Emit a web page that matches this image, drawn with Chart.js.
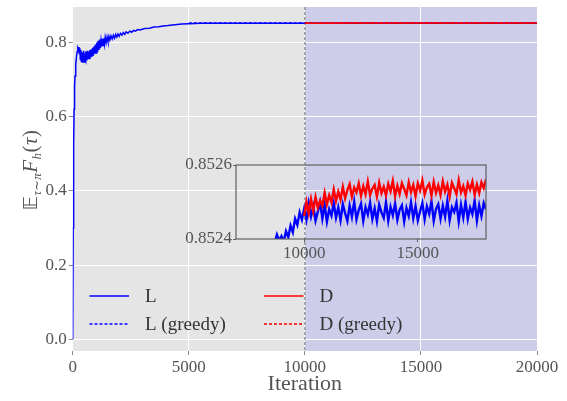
<!DOCTYPE html>
<html><head><meta charset="utf-8">
<script src="https://cdn.jsdelivr.net/npm/chart.js@4.4.0/dist/chart.umd.min.js"></script>
<style>
html,body{margin:0;padding:0;background:#fff;overflow:hidden}
#wrap{position:relative;width:567px;height:401px}
#main{position:absolute;left:0;top:0}
#inset{position:absolute;left:170px;top:150px}
</style></head><body>
<div id="wrap"><canvas id="main" width="567" height="401"></canvas><canvas id="inset" width="330" height="115"></canvas></div>
<script>
// ---------- data ----------
const xTicksMain = [0, 5000, 10000, 15000, 20000];
const yTicksMain = [0.0, 0.2, 0.4, 0.6, 0.8];
const xTicksInset = [10000, 15000];
const yTicksInset = [0.8524, 0.8526];

// L (sampled) over the full run, main view
const mainLIter = [0,20,40,60,80,100,130,160,190,220,250,270,290,310,330,350,370,390,410,430,450,470,490,510,530,550,570,590,610,630,650,680,710,740,770,800,830,860,890,920,950,980,1010,1040,1070,1100,1130,1160,1190,1220,1250,1280,1310,1340,1370,1400,1440,1480,1520,1560,1600,1650,1700,1750,1800,1850,1900,1950,2000,2060,2120,2180,2240,2300,2380,2460,2540,2620,2700,2800,2900,3100,3300,3500,3700,3900,4100,4400,4700,5000,5500,6000,7000,8000,9000,9500,10000,12000,20000];
const mainLVal = [0.0,0.30,0.52,0.62,0.68,0.71,0.74,0.76,0.775,0.785,0.78,0.788,0.77,0.785,0.755,0.78,0.75,0.775,0.748,0.772,0.752,0.778,0.748,0.77,0.755,0.776,0.75,0.772,0.752,0.778,0.755,0.775,0.757,0.78,0.76,0.782,0.762,0.786,0.765,0.79,0.77,0.795,0.772,0.80,0.775,0.805,0.78,0.808,0.785,0.806,0.79,0.81,0.792,0.812,0.796,0.814,0.80,0.815,0.803,0.817,0.807,0.818,0.81,0.82,0.812,0.822,0.815,0.823,0.817,0.825,0.82,0.827,0.822,0.829,0.825,0.831,0.828,0.833,0.831,0.835,0.834,0.838,0.839,0.842,0.843,0.845,0.846,0.848,0.850,0.851,0.852,0.8523,0.8524,0.85242,0.85241,0.85244,0.85247,0.85248,0.85248];

// D (sampled), main view
const mainDIter = [10000, 11000, 12000, 20000];
const mainDVal = [0.85247, 0.8525, 0.85253, 0.85253];

// greedy evaluations, main view
const greedyLIter = [5000, 20000];
const greedyLVal = [0.8526, 0.8526];
const greedyDIter = [10000, 20000];
const greedyDVal = [0.8526, 0.8526];

// inset (zoomed) samples
const insetIter = [8700,8800,8900,9000,9100,9200,9300,9400,9500,9600,9700,9800,9900,
10000,10100,10200,10300,10400,10500,10600,10700,10800,10900,11000,11100,11200,11300,11400,11500,11600,11700,11800,11900,
12000,12100,12200,12300,12400,12500,12600,12700,12800,12900,13000,13100,13200,13300,13400,13500,13600,13700,13800,13900,
14000,14100,14200,14300,14400,14500,14600,14700,14800,14900,15000,15100,15200,15300,15400,15500,15600,15700,15800,15900,
16000,16100,16200,16300,16400,16500,16600,16700,16800,16900,17000,17100,17200,17300,17400,17500,17600,17700,17800,17900,18000];
const insetLVal = [0.852390,0.852412,0.852396,0.852408,0.852393,0.852421,0.852405,0.852436,0.852418,0.852455,0.852438,0.852472,0.852452,
0.852482,0.852452,0.852496,0.852461,0.852488,0.852450,0.852474,0.852499,0.852455,0.852492,0.852447,0.852480,0.852463,0.852497,0.852458,0.852485,0.852451,0.852494,0.852470,0.852449,
0.852490,0.852460,0.852501,0.852453,0.852478,0.852495,0.852449,0.852486,0.852466,0.852498,0.852454,0.852483,0.852448,0.852493,0.852472,0.852457,0.852500,0.852450,0.852487,0.852464,
0.852496,0.852452,0.852479,0.852491,0.852447,0.852484,0.852462,0.852499,0.852456,0.852489,0.852450,0.852475,0.852497,0.852453,0.852488,0.852468,0.852502,0.852449,0.852481,0.852494,
0.852455,0.852490,0.852460,0.852503,0.852451,0.852486,0.852473,0.852498,0.852448,0.852492,0.852458,0.852500,0.852454,0.852485,0.852467,0.852504,0.852450,0.852491,0.852462,0.852497,0.852480];
const insetDVal = [0.852462,0.852500,0.852470,0.852508,0.852476,0.852513,0.852485,0.852504,0.852490,0.852525,0.852494,0.852518,0.852499,0.852534,0.852503,0.852528,0.852507,0.852541,0.852510,0.852532,
0.852548,0.852514,0.852539,0.852526,0.852550,0.852517,0.852543,0.852521,0.852555,0.852519,0.852536,0.852546,0.852515,0.852552,0.852524,0.852541,0.852518,0.852549,0.852529,0.852557,
0.852516,0.852544,0.852522,0.852551,0.852535,0.852518,0.852553,0.852527,0.852546,0.852516,0.852550,0.852531,0.852558,0.852520,0.852540,0.852549,0.852517,0.852554,0.852525,0.852545,
0.852519,0.852556,0.852528,0.852547,0.852515,0.852552,0.852537,0.852521,0.852559,0.852526,0.852543,0.852518,0.852550,0.852533,0.852555,0.852520,0.852547,0.852524,0.852553,0.852538,0.852561];
const insetDIter = insetIter.slice(insetIter.indexOf(10000));

const shadeFrom = 10000, shadeTo = 20000;
// ---------- end data ----------

const pts = (xs, ys) => xs.map((x, i) => ({x, y: ys[i]}));
const SERIF = '"Liberation Serif", "DejaVu Serif", serif';
const BLUE = '#0000ff', RED = '#ff0000';
const TICKCOL = '#555555';

const bgPlugin = {
  id: 'bg',
  beforeDraw(chart) {
    const {ctx, chartArea: a, scales: {x}} = chart;
    ctx.save();
    ctx.fillStyle = '#e5e5e5';
    ctx.fillRect(a.left, a.top, a.right - a.left, a.bottom - a.top);
    const x0 = x.getPixelForValue(shadeFrom), x1 = x.getPixelForValue(shadeTo);
    ctx.fillStyle = '#cdcde9';
    ctx.fillRect(x0, a.top, x1 - x0, a.bottom - a.top);
    ctx.restore();
  },
  beforeDatasetsDraw(chart) {
    const {ctx, chartArea: a, scales: {x}} = chart;
    const xp = x.getPixelForValue(shadeFrom);
    ctx.save();
    ctx.strokeStyle = '#8a8a8a';
    ctx.lineWidth = 1.3;
    ctx.setLineDash([3, 2]);
    ctx.beginPath(); ctx.moveTo(xp, a.top); ctx.lineTo(xp, a.bottom); ctx.stroke();
    ctx.restore();
  }
};

const legendItems = [
  {label: 'L', color: BLUE, dash: [], col: 0, row: 0},
  {label: 'L (greedy)', color: BLUE, dash: [3, 2], col: 0, row: 1},
  {label: 'D', color: RED, dash: [], col: 1, row: 0},
  {label: 'D (greedy)', color: RED, dash: [3, 2], col: 1, row: 1}
];
const legendPlugin = {
  id: 'customLegend',
  afterDatasetsDraw(chart) {
    const ctx = chart.ctx;
    const colX = [89.5, 264], rowY = [296, 324];
    ctx.save();
    legendItems.forEach(it => {
      const x = colX[it.col], y = rowY[it.row];
      ctx.strokeStyle = it.color; ctx.lineWidth = 1.5; ctx.setLineDash(it.dash);
      ctx.beginPath(); ctx.moveTo(x, y); ctx.lineTo(x + 39.5, y); ctx.stroke();
      ctx.setLineDash([]);
      ctx.fillStyle = '#333333';
      ctx.font = '19px ' + SERIF;
      ctx.textBaseline = 'middle';
      ctx.fillText(it.label, x + 55.5, y + 1);
    });
    ctx.restore();
  }
};

const yTitlePlugin = {
  id: 'yTitle',
  afterDraw(chart) {
    const ctx = chart.ctx;
    const parts = [
      ['𝔼', '20px "DejaVu Sans", "DejaVu Serif", sans-serif', 0],
      ['τ∼π', 'italic 13px ' + SERIF, 4],
      ['F', 'italic 21px ' + SERIF, 0],
      ['h', 'italic 13px ' + SERIF, 4],
      ['(', '21px ' + SERIF, 0],
      ['τ', 'italic 21px ' + SERIF, 0],
      [')', '21px ' + SERIF, 0]
    ];
    ctx.save();
    let total = 0;
    parts.forEach(p => { ctx.font = p[1]; total += ctx.measureText(p[0]).width + 0.5; });
    ctx.translate(37, 170);
    ctx.rotate(-Math.PI / 2);
    ctx.fillStyle = '#555555';
    ctx.textBaseline = 'alphabetic';
    let cx = -total / 2;
    parts.forEach(p => {
      ctx.font = p[1];
      ctx.fillText(p[0], cx, p[2]);
      cx += ctx.measureText(p[0]).width + 0.5;
    });
    ctx.restore();
  }
};

const zeroPad = s => { s.paddingTop = 0; s.paddingBottom = 0; s.paddingLeft = 0; s.paddingRight = 0; };

const mainChart = new Chart(document.getElementById('main'), {
  type: 'scatter',
  data: {
    datasets: [
      {label: 'L', data: pts(mainLIter, mainLVal), borderColor: BLUE, borderWidth: 1.5, showLine: true, pointRadius: 0, order: 3},
      {label: 'L (greedy)', data: pts(greedyLIter, greedyLVal), borderColor: BLUE, borderWidth: 1.5, borderDash: [3, 2], showLine: true, pointRadius: 0, order: 2},
      {label: 'D', data: pts(mainDIter, mainDVal), borderColor: RED, borderWidth: 1.5, showLine: true, pointRadius: 0, order: 1},
      {label: 'D (greedy)', data: pts(greedyDIter, greedyDVal), borderColor: RED, borderWidth: 1.5, borderDash: [3, 2], showLine: true, pointRadius: 0, order: 0}
    ]
  },
  options: {
    responsive: false, animation: false, devicePixelRatio: 1,
    layout: {padding: {top: 7, right: 30, left: 0, bottom: 0}},
    plugins: {legend: {display: false}, tooltip: {enabled: false}},
    scales: {
      x: {
        type: 'linear', min: 0, max: 20000,
        afterBuildTicks: s => { s.ticks = xTicksMain.map(v => ({value: v})); },
        afterFit: s => { s.height = 50; zeroPad(s); },
        ticks: {font: {family: SERIF, size: 17}, color: TICKCOL, padding: 2, maxRotation: 0, callback: v => String(v)},
        grid: {color: '#ffffff', lineWidth: 1, tickColor: '#888888', tickLength: 4},
        border: {display: false},
        title: {display: true, text: 'Iteration', font: {family: SERIF, size: 22}, color: TICKCOL, padding: {top: 0, bottom: 4}}
      },
      y: {
        type: 'linear', min: -0.0316, max: 0.896,
        afterBuildTicks: s => { s.ticks = yTicksMain.map(v => ({value: v})); },
        afterFit: s => { s.width = 72.7; zeroPad(s); },
        ticks: {font: {family: SERIF, size: 17}, color: TICKCOL, padding: 2, callback: v => v.toFixed(1)},
        grid: {color: '#ffffff', lineWidth: 1, tickColor: '#888888', tickLength: 4},
        border: {display: false}
      }
    }
  },
  plugins: [bgPlugin, legendPlugin, yTitlePlugin]
});

const framePlugin = {
  id: 'frame',
  afterDraw(chart) {
    const {ctx, chartArea: a} = chart;
    ctx.save();
    ctx.strokeStyle = '#606060'; ctx.lineWidth = 1.2;
    ctx.strokeRect(a.left, a.top, a.right - a.left, a.bottom - a.top);
    ctx.restore();
  }
};

const insetChart = new Chart(document.getElementById('inset'), {
  type: 'scatter',
  data: {
    datasets: [
      {label: 'D', data: pts(insetDIter, insetDVal), borderColor: RED, borderWidth: 2.4, showLine: true, pointRadius: 0, order: 0},
      {label: 'L', data: pts(insetIter, insetLVal), borderColor: BLUE, borderWidth: 2.4, showLine: true, pointRadius: 0, order: 1}
    ]
  },
  options: {
    responsive: false, animation: false, devicePixelRatio: 1,
    layout: {padding: {top: 15, right: 14, left: 0, bottom: 0}},
    plugins: {legend: {display: false}, tooltip: {enabled: false}},
    scales: {
      x: {
        type: 'linear', min: 7000, max: 18000,
        afterBuildTicks: s => { s.ticks = xTicksInset.map(v => ({value: v})); },
        afterFit: s => { s.height = 26; zeroPad(s); },
        ticks: {font: {family: SERIF, size: 17}, color: TICKCOL, padding: 1, maxRotation: 0, callback: v => String(v)},
        grid: {drawOnChartArea: false, tickColor: '#606060', tickLength: 3},
        border: {display: false}
      },
      y: {
        type: 'linear', min: 0.8524, max: 0.8526,
        afterBuildTicks: s => { s.ticks = yTicksInset.map(v => ({value: v})); },
        afterFit: s => { s.width = 66; zeroPad(s); },
        ticks: {font: {family: SERIF, size: 17}, color: TICKCOL, padding: 1, callback: v => v.toFixed(4)},
        grid: {drawOnChartArea: false, tickColor: '#606060', tickLength: 3},
        border: {display: false}
      }
    }
  },
  plugins: [framePlugin]
});
</script>
</body></html>
